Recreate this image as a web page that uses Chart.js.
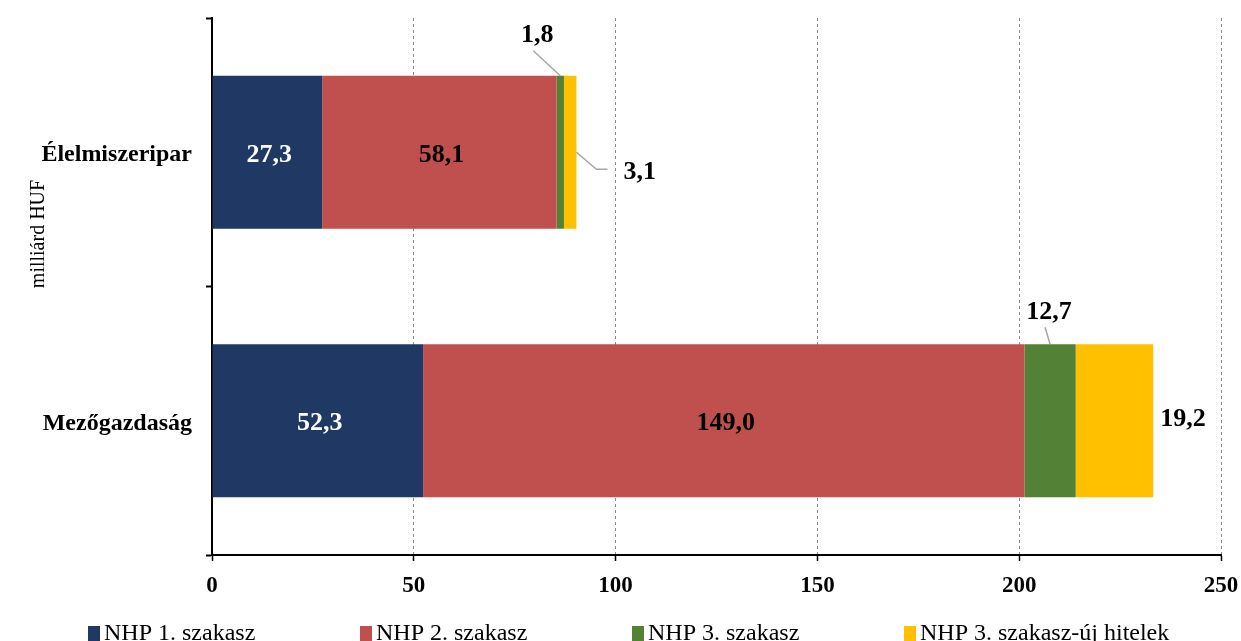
<!DOCTYPE html>
<html>
<head>
<meta charset="utf-8">
<script src="https://cdn.jsdelivr.net/npm/chart.js@4.4.1/dist/chart.umd.min.js"></script>
<style>
  html, body { margin: 0; padding: 0; background: #fff; }
  #wrap { width: 1241px; height: 641px; position: relative; }
</style>
</head>
<body>
<div id="wrap"><canvas id="myChart"></canvas></div>
<script>
const categories = ['Élelmiszeripar', 'Mezőgazdaság'];
const seriesNames = ['NHP 1. szakasz', 'NHP 2. szakasz', 'NHP 3. szakasz', 'NHP 3. szakasz-új hitelek'];
const nhp1 = [27.3, 52.3];
const nhp2 = [58.1, 149.0];
const nhp3 = [1.8, 12.7];
const nhp3New = [3.1, 19.2];
const xTicks = [0, 50, 100, 150, 200, 250];
const axisTitle = 'milliárd HUF';

const seriesColors = ['#203864', '#C0504D', '#538135', '#FFC000'];
const serif = "'Liberation Serif', 'Times New Roman', serif";

const fmt = v => v.toFixed(1).replace('.', ',');

// where the small values go (outside the bar, with a leader line)
// key: dataset-index ; anchor 'top' = middle of the segment's top edge, 'end' = right edge middle
const callouts = {
  '2-0': { anchor: 'top', label: [-23, -40], align: 'center', line: [[-27, -25], [0, 0]] },
  '3-0': { anchor: 'end', label: [47, 20], align: 'left', line: [[0, 0], [20, 17], [31, 17]] },
  '2-1': { anchor: 'top', label: [-1, -32], align: 'center', line: [[-5, -17], [0, 0]] },
  '3-1': { anchor: 'end', label: [7, -1], align: 'left', line: null }
};

const labelPlugin = {
  id: 'barLabels',
  afterDatasetsDraw(chart) {
    const ctx = chart.ctx;
    ctx.save();
    ctx.font = 'bold 26px ' + serif;
    ctx.textBaseline = 'middle';
    chart.data.datasets.forEach((ds, i) => {
      const meta = chart.getDatasetMeta(i);
      meta.data.forEach((el, j) => {
        const txt = fmt(ds.data[j]);
        const c = callouts[i + '-' + j];
        if (!c) {
          ctx.fillStyle = i === 0 ? '#fff' : '#000';
          ctx.textAlign = 'center';
          ctx.fillText(txt, (el.x + el.base) / 2 + 2, el.y + 3);
          return;
        }
        let ax, ay;
        if (c.anchor === 'top') {
          ax = (el.x + el.base) / 2;
          ay = el.y - el.height / 2;
        } else {
          ax = el.x;
          ay = el.y;
        }
        if (c.line) {
          ctx.strokeStyle = '#a6a6a6';
          ctx.lineWidth = 1.5;
          ctx.beginPath();
          c.line.forEach((p, k) => {
            if (k === 0) ctx.moveTo(ax + p[0], ay + p[1]);
            else ctx.lineTo(ax + p[0], ay + p[1]);
          });
          ctx.stroke();
        }
        ctx.fillStyle = '#000';
        ctx.textAlign = c.align;
        ctx.fillText(txt, ax + c.label[0], ay + c.label[1]);
      });
    });
    ctx.restore();
  }
};

const extrasPlugin = {
  id: 'extras',
  afterDraw(chart) {
    const ctx = chart.ctx;
    ctx.save();
    // axis title
    ctx.font = '20px ' + serif;
    ctx.fillStyle = '#000';
    ctx.textAlign = 'center';
    ctx.textBaseline = 'middle';
    ctx.translate(39, 234);
    ctx.rotate(-Math.PI / 2);
    ctx.fillText(axisTitle, 0, 0);
    ctx.restore();

    // legend
    ctx.save();
    ctx.font = '24px ' + serif;
    ctx.textBaseline = 'middle';
    ctx.textAlign = 'left';
    chart.data.datasets.forEach((ds, i) => {
      const x = 88 + i * 272;
      ctx.fillStyle = ds.backgroundColor;
      ctx.fillRect(x, 626, 12, 15);
      ctx.fillStyle = '#000';
      ctx.fillText(ds.label, x + 16, 634);
    });
    ctx.restore();
  }
};

const datasetValues = [nhp1, nhp2, nhp3, nhp3New];

const data = {
  labels: categories,
  datasets: datasetValues.map((vals, i) => ({
    label: seriesNames[i],
    data: vals,
    backgroundColor: seriesColors[i],
    borderWidth: 0,
    barPercentage: 1,
    categoryPercentage: 0.57
  }))
};

const config = {
  type: 'bar',
  data: data,
  options: {
    indexAxis: 'y',
    responsive: true,
    maintainAspectRatio: false,
    animation: false,
    layout: { padding: { top: 18, right: 20, bottom: 30, left: 0 } },
    plugins: {
      legend: { display: false },
      tooltip: { enabled: false }
    },
    scales: {
      x: {
        stacked: true,
        min: xTicks[0],
        max: xTicks[xTicks.length - 1],
        afterBuildTicks: s => { s.ticks = xTicks.map(v => ({ value: v })); },
        afterFit: s => {
          s.height = 56;
          s.paddingLeft = 0;
          s.paddingRight = 0;
        },
        border: { display: true, color: '#000', width: 2, dash: [3, 3] },
        grid: {
          color: c => (c.tick && c.tick.value === 0 ? 'rgba(0,0,0,0)' : '#8c8c8c'),
          lineWidth: 1,
          drawTicks: true,
          tickLength: 6,
          tickColor: '#000',
          tickWidth: 1.5,
          tickBorderDash: []
        },
        ticks: {
          color: '#000',
          padding: 11,
          font: { family: serif, size: 23, weight: 'bold' }
        }
      },
      y: {
        stacked: true,
        afterFit: s => {
          s.width = 212;
          s.paddingTop = 0;
          s.paddingBottom = 0;
        },
        border: { display: true, color: '#000', width: 2 },
        grid: {
          offset: true,
          drawOnChartArea: false,
          drawTicks: true,
          tickLength: 6,
          tickColor: '#000',
          tickWidth: 2
        },
        ticks: {
          color: '#000',
          padding: 14,
          labelOffset: 3,
          font: { family: serif, size: 24, weight: 'bold' }
        }
      }
    }
  },
  plugins: [labelPlugin, extrasPlugin]
};

const myChart = new Chart(document.getElementById('myChart'), config);
</script>
</body>
</html>
